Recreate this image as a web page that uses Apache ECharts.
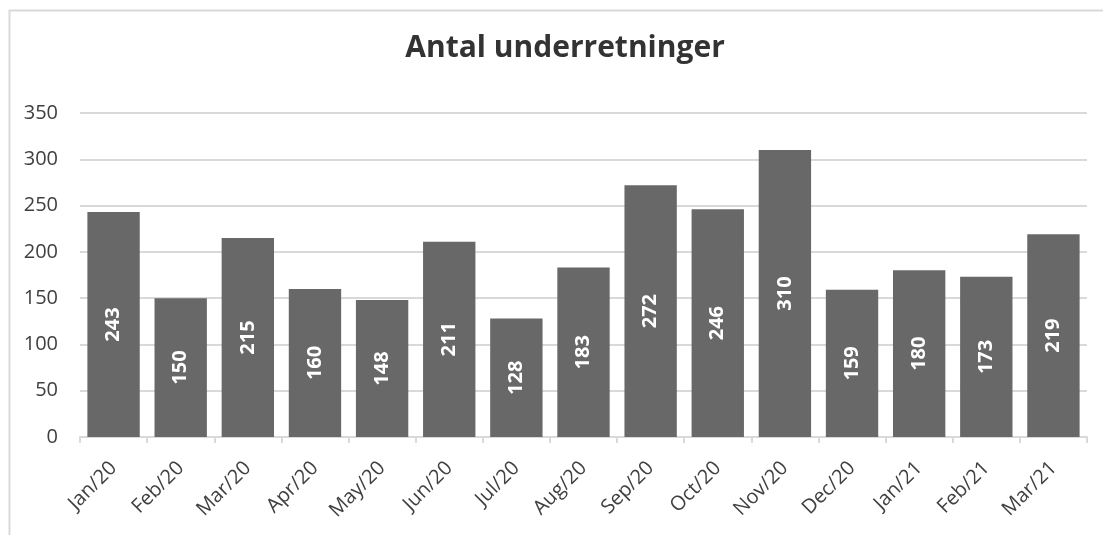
<!DOCTYPE html>
<html><head><meta charset="utf-8">
<script src="https://cdn.jsdelivr.net/npm/echarts@6/dist/echarts.min.js"></script>
<style>html,body{margin:0;padding:0;background:#fff}#c{width:1103px;height:535px}</style>
</head><body><div id="c"></div>
<script>
const categories = ['Jan/20','Feb/20','Mar/20','Apr/20','May/20','Jun/20','Jul/20','Aug/20','Sep/20','Oct/20','Nov/20','Dec/20','Jan/21','Feb/21','Mar/21'];
const values = [243,150,215,160,148,211,128,183,272,246,310,159,180,173,219];
const title = 'Antal underretninger';

const chart = echarts.init(document.getElementById('c'));
chart.setOption({
  animation: false,
  textStyle: {fontFamily: 'Open Sans'},
  graphic: [{type:'rect', shape:{x:9.5,y:10.5,width:1200,height:600}, style:{fill:'none', stroke:'#d9d9d9', lineWidth:2}, silent:true}],
  title: {text: title, left: 560, top: 28, textAlign: 'center',
    textStyle: {fontFamily:'Open Sans', fontSize: 30, fontWeight: 'bold', color: '#333333'}},
  grid: {left: 80, right: 16, top: 113, bottom: 98},
  xAxis: {type:'category', data: categories,
    axisLine:{lineStyle:{color:'#d9d9d9', width:2}},
    axisTick:{show:true, length:6, lineStyle:{color:'#d9d9d9', width:2}},
    axisLabel:{rotate:45, fontSize:20, color:'#404040', margin:28, fontFamily:'Open Sans'}},
  yAxis: {type:'value', min:0, max:350, interval:50,
    axisLine:{show:false}, axisTick:{show:false},
    splitLine:{lineStyle:{color:'#d9d9d9', width:2}},
    axisLabel:{fontSize:20, color:'#404040', margin:22, fontFamily:'Open Sans'}},
  series: [{type:'bar', data: values, barCategoryGap:'22%',
    itemStyle:{color:'#686868'},
    label:{show:true, position:'inside', rotate:90, color:'#fff', fontWeight:'bold', fontSize:20, fontFamily:'Open Sans'}}]
});
</script></body></html>
